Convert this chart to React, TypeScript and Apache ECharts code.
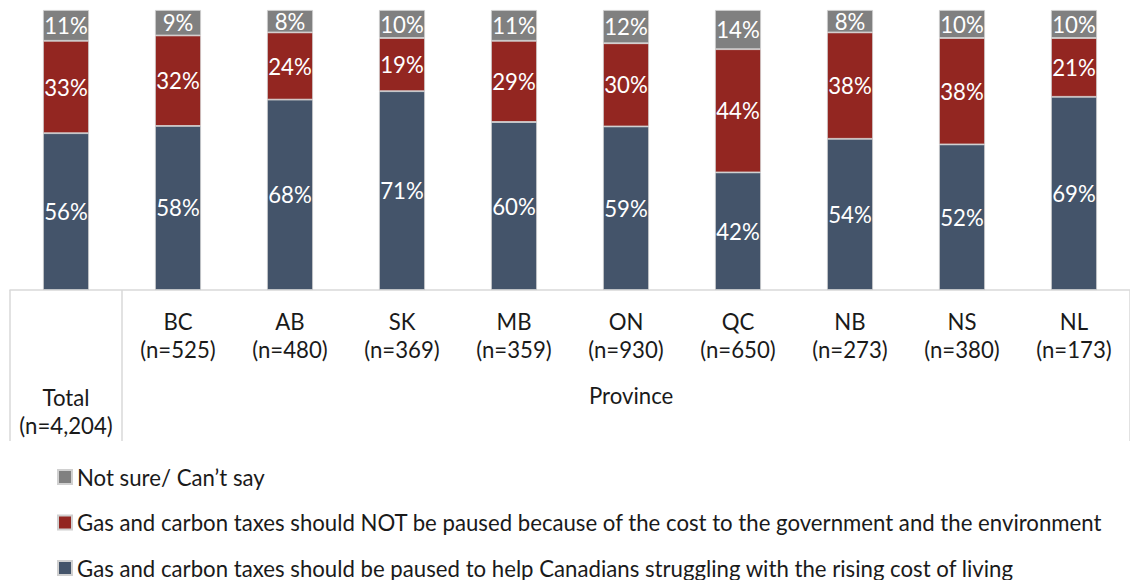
import React, { useEffect, useRef } from "react";
import * as echarts from "echarts";

const regions = ["Total", "BC", "AB", "SK", "MB", "ON", "QC", "NB", "NS", "NL"];
const sampleSizes = ["4,204", "525", "480", "369", "359", "930", "650", "273", "380", "173"];
const pausedValues = [56, 58, 68, 71, 60, 59, 42, 54, 52, 69];
const notPausedValues = [33, 32, 24, 19, 29, 30, 44, 38, 38, 21];
const notSureValues = [11, 9, 8, 10, 11, 12, 14, 8, 10, 10];

const seriesNames = [
  "Gas and carbon taxes should be paused to help Canadians struggling with the rising cost of living",
  "Gas and carbon taxes should NOT be paused because of the cost to the government and the environment",
  "Not sure/ Can\u2019t say",
];
const seriesColors = ["#44546A", "#932621", "#808080"];
const groupLabel = "Province";

const FONT = "Lato";
const FS = 22.2;

export default function App() {
  const ref = useRef<HTMLDivElement>(null);

  useEffect(() => {
    if (!ref.current) return;
    const chart = echarts.init(ref.current, undefined, { renderer: "svg" });
    const raw = [pausedValues, notPausedValues, notSureValues];
    const totals = regions.map((_, i) => raw.reduce((s, arr) => s + arr[i], 0));

    const series = raw.map((arr, si) => ({
      name: seriesNames[si],
      type: "bar",
      stack: "all",
      barWidth: 46,
      data: arr.map((v, i) => (v / totals[i]) * 100),
      itemStyle: { color: seriesColors[si], borderColor: "#d0d0d0", borderWidth: 0.8 },
      label: {
        show: true,
        position: "inside",
        color: "#ffffff",
        fontFamily: FONT,
        fontSize: FS,
        formatter: (p: any) => arr[p.dataIndex] + "%",
      },
    }));

    chart.setOption({
      animation: false,
      textStyle: { fontFamily: FONT },
      grid: { left: 10, top: 10, width: 1132, height: 280 },
      xAxis: {
        type: "category",
        data: regions,
        axisLine: { lineStyle: { color: "#d9d9d9", width: 1.5 } },
        axisTick: {
          show: true,
          length: 151,
          interval: (i: number) => i <= 1,
          lineStyle: { color: "#d9d9d9", width: 1.5 },
        },
        axisLabel: {
          interval: 0,
          margin: 17,
          formatter: (v: string, i: number) =>
            i === 0
              ? "{sp| }\n{t|" + v + "}\n{t|(n=" + sampleSizes[i] + ")}"
              : "{t|" + v + "}\n{t|(n=" + sampleSizes[i] + ")}",
          rich: {
            t: { fontFamily: FONT, fontSize: FS, color: "#1a1a1a", lineHeight: 28 },
            sp: { fontSize: 10, lineHeight: 76, height: 76 },
          },
        },
      },
      yAxis: { type: "value", min: 0, max: 100, show: false, splitLine: { show: false } },
      legend: {
        orient: "vertical",
        left: 57,
        top: 466,
        height: 114,
        padding: 0,
        itemGap: 23.5,
        itemWidth: 14,
        itemHeight: 14,
        icon: "rect",
        data: [seriesNames[2], seriesNames[1], seriesNames[0]],
        textStyle: { fontFamily: FONT, fontSize: FS, color: "#1a1a1a" },
      },
      graphic: [
        {
          type: "text",
          left: 632 - 43,
          top: 384,
          style: { text: groupLabel, font: FS + "px " + FONT, fill: "#1a1a1a" },
        },
      ],
      series,
    });
    return () => chart.dispose();
  }, []);

  return (
    <div
      ref={ref}
      style={{ position: "absolute", left: 0, top: 0, width: 1130, height: 580 }}
    />
  );
}
